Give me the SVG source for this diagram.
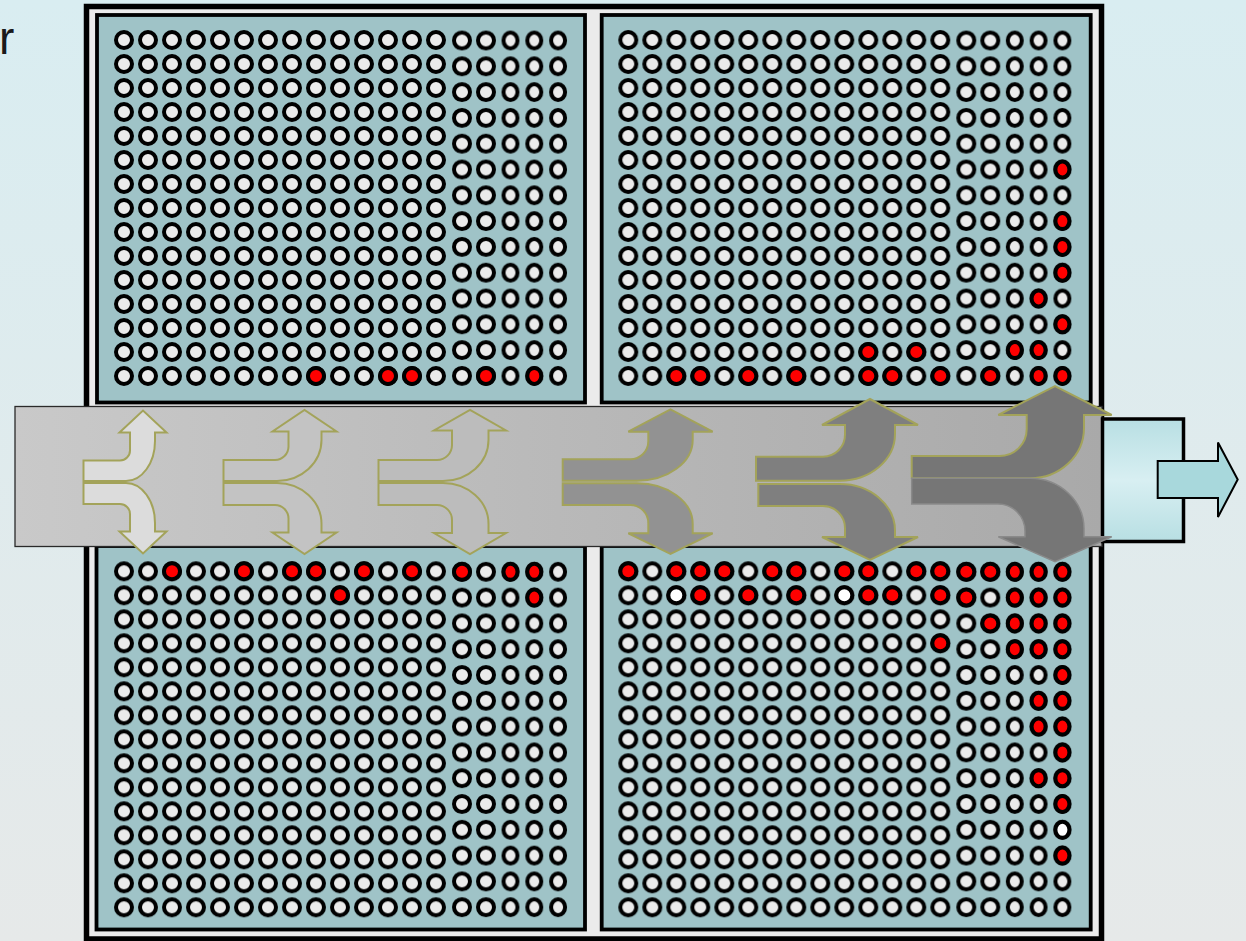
<svg xmlns="http://www.w3.org/2000/svg" xmlns:xlink="http://www.w3.org/1999/xlink" width="1246" height="941" viewBox="0 0 1246 941">
<style>
.panel{fill:#9fc3c7;stroke:#000;stroke-width:3.8}
.r{fill:#ff0000;stroke:#000;stroke-width:4}
.w{fill:#ffffff;stroke:#000;stroke-width:4}
.fa{stroke:#a3a35a;stroke-width:2;stroke-linejoin:miter}
</style>
<defs>
<linearGradient id="bg" x1="0" y1="0" x2="0" y2="1"><stop offset="0" stop-color="#d9edf1"/><stop offset="1" stop-color="#e6e9e9"/></linearGradient>
<linearGradient id="barg" x1="0" y1="0" x2="1" y2="0"><stop offset="0" stop-color="#c9c9c9"/><stop offset="1" stop-color="#a9a9a9"/></linearGradient>
<linearGradient id="boxg" x1="0" y1="0" x2="0" y2="1"><stop offset="0" stop-color="#b8dfe3"/><stop offset="0.5" stop-color="#d8eff2"/><stop offset="1" stop-color="#b8dfe3"/></linearGradient>
<pattern id="pA" patternUnits="userSpaceOnUse" x="112" y="28" width="24" height="24"><circle cx="12" cy="12" r="8" fill="#ebebeb" stroke="#000" stroke-width="4"/></pattern>
<pattern id="pB" patternUnits="userSpaceOnUse" x="450" y="27.6" width="24" height="25.8"><circle cx="12" cy="12.9" r="8" fill="#ebebeb" stroke="#000" stroke-width="4"/></pattern>
<pattern id="pC" patternUnits="userSpaceOnUse" x="498.6" y="27.6" width="23.8" height="25.8"><ellipse cx="11.9" cy="12.9" rx="7" ry="8" fill="#ebebeb" stroke="#000" stroke-width="4"/></pattern>
<circle id="rc" r="8" class="r"/>
<ellipse id="re" rx="7" ry="8" class="r"/>
<circle id="wc" r="8" class="w"/>
<ellipse id="we" rx="7" ry="8" class="w"/>
<g id="grid">
<rect x="112" y="28" width="336" height="360" fill="url(#pA)"/>
<rect x="450" y="27.6" width="48" height="361.2" fill="url(#pB)"/>
<rect x="498.6" y="27.6" width="71.4" height="361.2" fill="url(#pC)"/>
</g>
</defs>
<rect id="background" x="0" y="0" width="1246" height="941" fill="url(#bg)"/>
<text x="-1" y="54" font-family="Liberation Sans, Arial, sans-serif" font-size="46" fill="#1a1a1a">r</text>
<g id="frame"><rect x="86.5" y="6.5" width="1015" height="932.5" fill="#ebebeb" stroke="#000" stroke-width="5.5"/></g>
<g id="panel-top-left">
<rect class="panel" x="97" y="15" width="488" height="387.5"/>
<use xlink:href="#grid" href="#grid"/>
<use href="#rc" x="316" y="376"/><use href="#rc" x="388" y="376"/><use href="#rc" x="412" y="376"/>
<use href="#rc" x="486" y="375.9"/><use href="#re" x="534.3" y="375.9"/>
</g>
<g id="panel-top-right">
<rect class="panel" x="601.7" y="15" width="489" height="387.5"/>
<use href="#grid" transform="translate(504.3,0)"/>
<use href="#rc" x="868.3" y="352"/><use href="#rc" x="916.3" y="352"/>
<use href="#rc" x="676.3" y="376"/><use href="#rc" x="700.3" y="376"/><use href="#rc" x="748.3" y="376"/><use href="#rc" x="796.3" y="376"/><use href="#rc" x="868.3" y="376"/><use href="#rc" x="892.3" y="376"/><use href="#rc" x="940.3" y="376"/>
<use href="#re" x="1062.4" y="169.5"/>
<use href="#re" x="1062.4" y="221.1"/>
<use href="#re" x="1062.4" y="246.9"/>
<use href="#re" x="1062.4" y="272.7"/>
<use href="#re" x="1038.6" y="298.5"/>
<use href="#re" x="1062.4" y="324.3"/>
<use href="#re" x="1014.8" y="350.1"/><use href="#re" x="1038.6" y="350.1"/>
<use href="#rc" x="990.3" y="375.9"/><use href="#re" x="1038.6" y="375.9"/><use href="#re" x="1062.4" y="375.9"/>
</g>
<g id="panel-bottom-left">
<rect class="panel" x="96.5" y="546" width="488.5" height="383.5"/>
<use href="#grid" transform="translate(0,531.3)"/>
<use href="#rc" x="172" y="571.3"/><use href="#rc" x="244" y="571.3"/><use href="#rc" x="292" y="571.3"/><use href="#rc" x="316" y="571.3"/><use href="#rc" x="364" y="571.3"/><use href="#rc" x="412" y="571.3"/>
<use href="#rc" x="340" y="595.3"/>
<use href="#rc" x="462" y="571.8"/><use href="#re" x="510.5" y="571.8"/><use href="#re" x="534.3" y="571.8"/>
<use href="#re" x="534.3" y="597.6"/>
</g>
<g id="panel-bottom-right">
<rect class="panel" x="601.7" y="546" width="489" height="383.5"/>
<use href="#grid" transform="translate(504.3,531.3)"/>
<use href="#rc" x="628.3" y="571.3"/><use href="#rc" x="676.3" y="571.3"/><use href="#rc" x="700.3" y="571.3"/><use href="#rc" x="724.3" y="571.3"/><use href="#rc" x="772.3" y="571.3"/><use href="#rc" x="796.3" y="571.3"/><use href="#rc" x="844.3" y="571.3"/><use href="#rc" x="868.3" y="571.3"/><use href="#rc" x="916.3" y="571.3"/><use href="#rc" x="940.3" y="571.3"/>
<use href="#rc" x="700.3" y="595.3"/><use href="#rc" x="748.3" y="595.3"/><use href="#rc" x="796.3" y="595.3"/><use href="#rc" x="868.3" y="595.3"/><use href="#rc" x="892.3" y="595.3"/><use href="#rc" x="940.3" y="595.3"/>
<use href="#wc" x="676.3" y="595.3"/><use href="#wc" x="844.3" y="595.3"/>
<use href="#rc" x="940.3" y="643.3"/>
<use href="#rc" x="966.3" y="571.8"/><use href="#rc" x="990.3" y="571.8"/><use href="#re" x="1014.8" y="571.8"/><use href="#re" x="1038.6" y="571.8"/><use href="#re" x="1062.4" y="571.8"/>
<use href="#rc" x="966.3" y="597.6"/><use href="#re" x="1014.8" y="597.6"/><use href="#re" x="1038.6" y="597.6"/><use href="#re" x="1062.4" y="597.6"/>
<use href="#rc" x="990.3" y="623.4"/><use href="#re" x="1014.8" y="623.4"/><use href="#re" x="1038.6" y="623.4"/><use href="#re" x="1062.4" y="623.4"/>
<use href="#re" x="1014.8" y="649.2"/><use href="#re" x="1038.6" y="649.2"/><use href="#re" x="1062.4" y="649.2"/>
<use href="#re" x="1062.4" y="675"/>
<use href="#re" x="1038.6" y="700.8"/><use href="#re" x="1062.4" y="700.8"/>
<use href="#re" x="1038.6" y="726.6"/><use href="#re" x="1062.4" y="726.6"/>
<use href="#re" x="1062.4" y="752.4"/>
<use href="#re" x="1038.6" y="778.2"/><use href="#re" x="1062.4" y="778.2"/>
<use href="#re" x="1062.4" y="804"/>
<use href="#we" x="1062.4" y="829.8"/>
<use href="#re" x="1062.4" y="855.6"/>
</g>
<g id="duct"><rect x="15" y="406.5" width="1087" height="140" fill="url(#barg)" stroke="#2a2a2a" stroke-width="1.3"/></g>
<g id="outlet">
<rect x="1102.5" y="419" width="81" height="122.5" fill="url(#boxg)" stroke="#000" stroke-width="3.5"/>
<polygon points="1157.7,461 1218,461 1218,442.5 1237.7,479.5 1218,517 1218,498 1157.7,498" fill="#a8d8dc" stroke="#000" stroke-width="2"/>
</g>
<g id="flow-arrows">
<g fill="#dcdcdc" class="fa">
<path d="M83.5,481 L83.5,460.5 L120,460.5 A10,10 0 0 0 130,450.5 L130,432.5 L119.5,432.5 L143,410.5 L166.5,432.5 L155,432.5 L155,441 A29,40 0 0 1 126,481 Z"/>
<path d="M83.5,483 L83.5,504 L120,504 A10,10 0 0 1 130,514 L130,531.5 L119.5,531.5 L143,553.5 L166.5,531.5 L155,531.5 L155,523 A29,40 0 0 0 126,483 Z"/>
</g>
<g fill="#c3c3c3" class="fa">
<path d="M223.5,481 L223.5,460 L275,460 A13.5,13.5 0 0 0 288.5,446.5 L288.5,431.5 L272.5,431.5 L304.5,410 L336.5,431.5 L321.5,431.5 L321.5,440 A44.5,41 0 0 1 277,481 Z"/>
<path d="M223.5,483 L223.5,505 L275,505 A13.5,13.5 0 0 1 288.5,518.5 L288.5,532.5 L272.5,532.5 L304.5,554 L336.5,532.5 L321.5,532.5 L321.5,524 A44.5,41 0 0 0 277,483 Z"/>
</g>
<g fill="#bcbcbc" class="fa">
<path d="M378.5,481 L378.5,460 L437,460 A15,15 0 0 0 452,445 L452,430.5 L434,430.5 L470,410 L506,430.5 L488.5,430.5 L488.5,440 A45.5,41 0 0 1 443,481 Z"/>
<path d="M378.5,483 L378.5,505 L437,505 A15,15 0 0 1 452,520 L452,533 L434,533 L470,554 L506,533 L488.5,533 L488.5,524 A45.5,41 0 0 0 443,483 Z"/>
</g>
<g fill="#929292" class="fa">
<path d="M562.7,480.7 L562.7,459.3 L630.3,459.3 A18,18 0 0 0 648.3,441.3 L648.3,431.7 L628.3,431.7 L670.5,409.3 L712.7,431.7 L692.7,431.7 L692.7,440 A55.7,40.7 0 0 1 637,480.7 Z"/>
<path d="M562.7,483.3 L562.7,505 L630.3,505 A18,18 0 0 1 648.3,523 L648.3,533.3 L628.3,533.3 L670.5,554 L712.7,533.3 L692.7,533.3 L692.7,524 A55.7,40.7 0 0 0 637,483.3 Z"/>
</g>
<g fill="#7f7f7f" class="fa">
<path d="M756,480.7 L756,456.7 L823,456.7 A22,22 0 0 0 845,434.7 L845,425 L822,425 L870,399 L918,425 L895,425 L895,434 A55,46.7 0 0 1 840,480.7 Z"/>
<path d="M758.3,484 L758.3,506 L823,506 A22,22 0 0 1 845,528 L845,537 L822,537 L870,560 L918,537 L895,537 L895,530.7 A55,46.7 0 0 0 840,484 Z"/>
</g>
<path fill="#767676" class="fa" d="M911.7,478.3 L911.7,456 L999.7,456 A27,27 0 0 0 1026.7,429 L1026.7,415 L998.3,415 L1055,386 L1111.7,415 L1084,415 L1084,428 A54,50.3 0 0 1 1030,478.3 Z"/>
<path fill="#767676" stroke="#8a8a8a" stroke-width="1.5" d="M911.7,478.3 L911.7,504 L998,504 A27,27 0 0 1 1025,531 L1025,536.7 L998.3,536.7 L1055,561.7 L1111.7,536.7 L1084,536.7 L1084,528.6 A54,50.3 0 0 0 1030,478.3 Z"/>
</g>
</svg>
